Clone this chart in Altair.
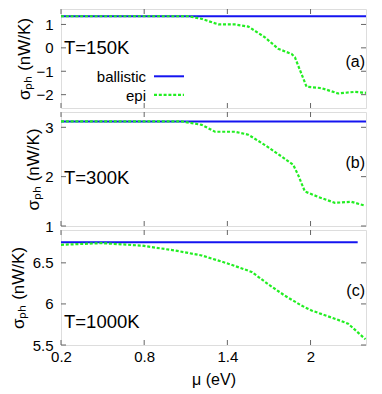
import altair as alt
import pandas as pd

# ---- data ----
mu_a = [0.2, 1.12, 1.215, 1.335, 1.455, 1.551, 1.671, 1.767, 1.863, 1.887, 1.971, 2.079, 2.199, 2.319, 2.4]
epi_a = [1.35, 1.35, 1.24, 1.00, 1.00, 0.91, 0.45, -0.04, -0.26, -0.40, -1.66, -1.72, -1.95, -1.88, -1.92]
bal_mu_a = [0.2, 2.4]
bal_a = [1.35, 1.35]

mu_b = [0.2, 1.071, 1.215, 1.311, 1.455, 1.551, 1.671, 1.791, 1.875, 1.911, 1.959, 2.055, 2.175, 2.295, 2.396]
epi_b = [3.12, 3.12, 3.05, 2.91, 2.91, 2.85, 2.64, 2.41, 2.24, 2.03, 1.70, 1.59, 1.47, 1.49, 1.41]
bal_mu_b = [0.2, 2.4]
bal_b = [3.12, 3.12]

mu_c = [0.2, 0.495, 0.783, 1.023, 1.215, 1.407, 1.575, 1.695, 1.815, 1.935, 2.007, 2.175, 2.271, 2.396]
epi_c = [6.72, 6.74, 6.71, 6.65, 6.59, 6.49, 6.39, 6.24, 6.10, 5.98, 5.92, 5.82, 5.76, 5.57]
bal_mu_c = [0.2, 2.34]
bal_c = [6.75, 6.75]

x_ticks = [0.2, 0.8, 1.4, 2.0]
y_ticks_a = [-2, -1, 0, 1]
y_ticks_b = [1, 2, 3]
y_ticks_c = [5.5, 6, 6.5]

labels_T = ["T=150K", "T=300K", "T=1000K"]
labels_tag = ["(a)", "(b)", "(c)"]
legend_names = ["ballistic", "epi"]

BLUE = "#1414f0"
GREEN = "#22ee22"
FONT = "Liberation Sans"
W = 305
XDOM = [0.2, 2.4]


def panel(mu_e, ep, mu_b_, bal, ydom, yticks, H, tlabel, tag, t_y, tag_y,
          show_x, title_pad, legend=False):
    if show_x:
        xaxis = alt.Axis(values=x_ticks, format="~g", labelFlush=False, ticks=False,
                         domain=False, grid=False, title="μ (eV)", labelFontSize=15,
                         titleFontSize=16, labelPadding=4, titlePadding=7,
                         labelColor="black", titleColor="black", titleFontWeight="normal",
                         labelFont=FONT, titleFont=FONT)
    else:
        xaxis = None
    yaxis = alt.Axis(values=yticks, format="~g", ticks=False, domain=False, grid=False,
                     title="σₚₕ (nW/K)", labelFontSize=15, titleFontSize=17,
                     labelPadding=8, titlePadding=title_pad, labelColor="black",
                     titleColor="black", titleFontWeight="normal",
                     labelFont=FONT, titleFont=FONT)
    xs = alt.Scale(domain=XDOM, nice=False, zero=False)
    ys = alt.Scale(domain=ydom, nice=False, zero=False)

    def X(f="mu"):
        return alt.X(f"{f}:Q", scale=xs, axis=xaxis)

    def Y(f="v"):
        return alt.Y(f"{f}:Q", scale=ys, axis=yaxis)

    d_bal = pd.DataFrame({"mu": mu_b_, "v": bal})
    d_epi = pd.DataFrame({"mu": mu_e, "v": ep})
    blue = alt.Chart(d_bal).mark_line(color=BLUE, strokeWidth=2).encode(x=X(), y=Y())
    green = alt.Chart(d_epi).mark_line(color=GREEN, strokeWidth=2.2,
                                       strokeDash=[3, 1.8]).encode(x=X(), y=Y())

    dxt = pd.DataFrame({"t": x_ticks})
    dyt = pd.DataFrame({"t": yticks})
    tick_style = dict(color="#666", strokeWidth=1)
    xt_top = alt.Chart(dxt).mark_rule(**tick_style).encode(
        x=X("t"), y=alt.value(0), y2=alt.value(5))
    xt_bot = alt.Chart(dxt).mark_rule(**tick_style).encode(
        x=X("t"), y=alt.value(H - 5), y2=alt.value(H))
    yt_l = alt.Chart(dyt).mark_rule(**tick_style).encode(
        y=Y("t"), x=alt.value(0), x2=alt.value(5))
    yt_r = alt.Chart(dyt).mark_rule(**tick_style).encode(
        y=Y("t"), x=alt.value(W - 5), x2=alt.value(W))

    txt = alt.Chart(pd.DataFrame({"s": [tlabel]})).mark_text(
        align="left", baseline="middle", fontSize=18.5, font=FONT, color="black"
    ).encode(text="s:N", x=alt.value(3), y=alt.value(t_y))
    tg = alt.Chart(pd.DataFrame({"s": [tag]})).mark_text(
        align="right", baseline="middle", fontSize=16, font=FONT, color="black"
    ).encode(text="s:N", x=alt.value(W - 1), y=alt.value(tag_y))

    layers = [yt_l, yt_r, xt_top, xt_bot, blue, green, txt, tg]
    if legend:
        lt1 = alt.Chart(pd.DataFrame({"s": [legend_names[0]]})).mark_text(
            align="right", baseline="middle", fontSize=15, font=FONT, color="black"
        ).encode(text="s:N", x=alt.value(85), y=alt.value(67.5))
        lt2 = alt.Chart(pd.DataFrame({"s": [legend_names[1]]})).mark_text(
            align="right", baseline="middle", fontSize=15, font=FONT, color="black"
        ).encode(text="s:N", x=alt.value(85), y=alt.value(86.5))
        ll1 = alt.Chart(pd.DataFrame({"s": [legend_names[0]]})).mark_rule(
            color=BLUE, strokeWidth=2).encode(
            x=alt.value(93), x2=alt.value(123), y=alt.value(67.3))
        ll2 = alt.Chart(pd.DataFrame({"s": [legend_names[1]]})).mark_rule(
            color=GREEN, strokeWidth=2.2, strokeDash=[3, 1.8]).encode(
            x=alt.value(93), x2=alt.value(123), y=alt.value(85.8))
        layers += [lt1, lt2, ll1, ll2]
    return alt.layer(*layers).properties(width=W, height=H)


pa = panel(mu_a, epi_a, bal_mu_a, bal_a, [-2.57, 1.66], y_ticks_a, 99,
           labels_T[0], labels_tag[0], 38.8, 53, False, 2, legend=True)
pb = panel(mu_b, epi_b, bal_mu_b, bal_b, [1, 3.31], y_ticks_b, 114,
           labels_T[1], labels_tag[1], 66, 51.3, False, 2)
pc = panel(mu_c, epi_c, bal_mu_c, bal_c, [5.5, 6.9], y_ticks_c, 115,
           labels_T[2], labels_tag[2], 92.4, 60.7, True, 5)

chart = alt.vconcat(pa, pb, pc, spacing=4, bounds="flush").properties(
    padding={"left": 0, "top": 0, "right": 0, "bottom": 0}
).configure_view(stroke="#222", strokeWidth=1.3).configure(background="white")

chart.save("out.html", embed_options={"renderer": "svg", "actions": False})
